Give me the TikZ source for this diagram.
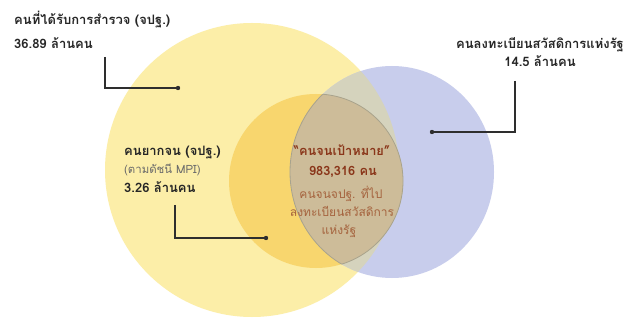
\documentclass[tikz,border=0pt]{standalone}
\usepackage{fontspec}
\newfontfamily\thai[Script=Thai]{Loma}
\definecolor{bigyellow}{HTML}{FCEEA8}
\definecolor{poororange}{HTML}{F8D66E}
\definecolor{welfareblue}{HTML}{C8CDEC}
\definecolor{overlapgrey}{HTML}{D5D3BD}
\definecolor{targetbrown}{HTML}{CDBC99}
\definecolor{rimgrey}{HTML}{A8A38E}
\definecolor{leader}{HTML}{2E2E2E}
\definecolor{titlered}{HTML}{8A361A}
\definecolor{subbrown}{HTML}{A5633E}
\definecolor{softgrey}{HTML}{6A6A6A}
\tikzset{
  lbl/.style={inner sep=0pt, font=\thai\fontsize{13}{15}\selectfont\bfseries, text=black!85},
  sublbl/.style={inner sep=0pt, font=\thai\fontsize{11.4}{13}\selectfont, text=softgrey},
  ctitle/.style={inner sep=0pt, font=\thai\fontsize{12.8}{15}\selectfont\bfseries, text=titlered},
  csub/.style={inner sep=0pt, font=\thai\fontsize{12}{14}\selectfont, text=subbrown},
  leaderline/.style={draw=leader, line width=1.4pt},
  dotmark/.style={fill=leader, circle, inner sep=0pt, minimum size=4.4pt}
}
\begin{document}
\begin{tikzpicture}[x=1pt, y=-1pt]
\useasboundingbox (0,0) rectangle (628,320);
\fill[white] (0,0) rectangle (628,320);

% the three sets
\coordinate (ycen) at (252,170);
\coordinate (bcen) at (392,172);
\coordinate (ocen) at (316,181);
\fill[bigyellow] (ycen) circle (147pt);
\fill[welfareblue] (bcen) ellipse [x radius=102pt, y radius=106pt];
\begin{scope}
  \clip (bcen) ellipse [x radius=102pt, y radius=106pt];
  \fill[overlapgrey] (ycen) circle (147pt);
\end{scope}
\fill[poororange] (ocen) circle (87pt);
\begin{scope}
  \clip (bcen) ellipse [x radius=102pt, y radius=106pt];
  \fill[targetbrown] (ocen) circle (87pt);
  \draw[rimgrey, line width=0.8pt] (ocen) circle (87pt);
\end{scope}
\begin{scope}
  \clip (ocen) circle (87pt);
  \draw[rimgrey, line width=0.8pt] (bcen) ellipse [x radius=102pt, y radius=106pt];
\end{scope}

% surveyed people
\node[lbl, anchor=base west] (survey) at (14,25) {คนที่ได้รับการสำรวจ (จปฐ.)};
\node[lbl, anchor=base west] (surveyn) at (14,49) {36.89 ล้านคน};
\coordinate (surveytop) at (105,57);
\node[dotmark] (surveydot) at (178,88) {};
\draw[leaderline] (surveytop) |- (surveydot.center);

% welfare registrants
\node[lbl, anchor=base] (welfare) at (540,49) {คนลงทะเบียนสวัสดิการแห่งรัฐ};
\node[lbl, anchor=base] (welfaren) at (540,67) {14.5 ล้านคน};
\coordinate (welfaretop) at (515,81);
\node[dotmark] (welfaredot) at (432,132) {};
\draw[leaderline] (welfaretop) |- (welfaredot.center);

% poor people
\node[lbl, anchor=base west] (poor) at (124,156) {คนยากจน (จปฐ.)};
\node[sublbl, anchor=base west] (poorsub) at (124,174) {(ตามดัชนี MPI)};
\node[lbl, anchor=base west] (poorn) at (124,193) {3.26 ล้านคน};
\coordinate (poortop) at (175,205);
\node[dotmark] (poordot) at (266,238) {};
\draw[leaderline] (poortop) |- (poordot.center);

% target group
\node[ctitle, anchor=base] (target) at (342,156) {“คนจนเป้าหมาย”};
\node[ctitle, anchor=base] (targetn) at (343,176) {983,316 คน};
\node[csub, anchor=base] (targeta) at (341,199) {คนจนจปฐ. ที่ไป};
\node[csub, anchor=base] (targetb) at (342,216) {ลงทะเบียนสวัสดิการ};
\node[csub, anchor=base] (targetc) at (339,234) {แห่งรัฐ};
\end{tikzpicture}
\end{document}
